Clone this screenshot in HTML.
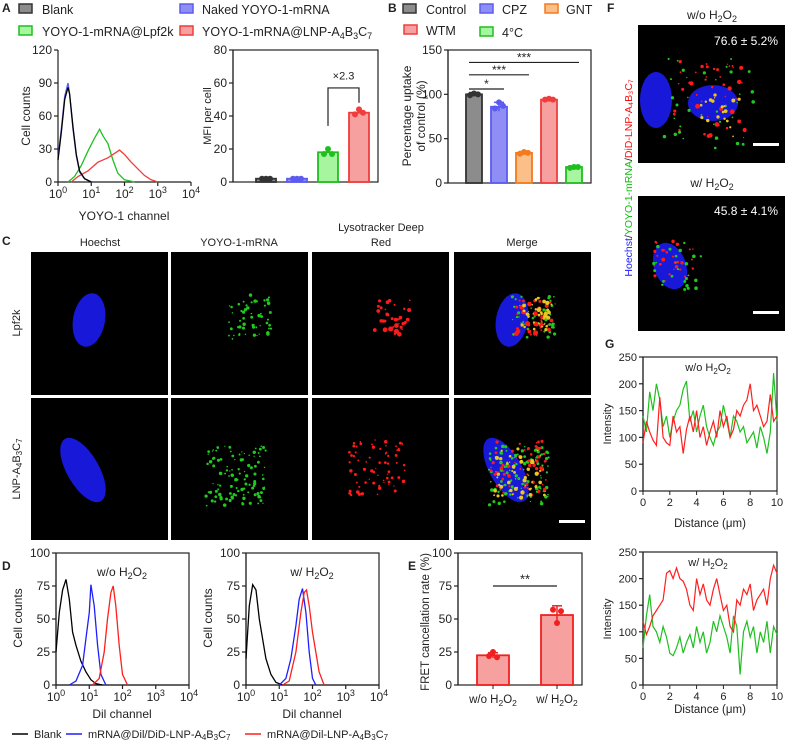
<!DOCTYPE html>
<html><head><meta charset="utf-8"><style>
body{margin:0;background:#fff;}
svg{display:block;font-family:"Liberation Sans",Arial,sans-serif;}
text{fill:#222;}
</style></head><body>
<svg id="fig" width="785" height="742" viewBox="0 0 785 742">
<g font-weight="bold" font-size="12">
<text x="2" y="12">A</text><text x="388" y="12">B</text><text x="607" y="12">F</text>
<text x="2" y="245">C</text><text x="2" y="570">D</text><text x="408" y="570">E</text><text x="605" y="348">G</text>
</g>
<g font-size="12.5">
<rect x="19" y="4" width="13" height="9" fill="#8c8c8c" stroke="#333" stroke-width="1.5"/><text x="42" y="14">Blank</text>
<rect x="180" y="4" width="13" height="9" fill="#8e8ef5" stroke="#5b5bf0" stroke-width="1.5"/><text x="202" y="14">Naked YOYO-1-mRNA</text>
<rect x="19" y="26" width="13" height="9" fill="#a8f5a0" stroke="#1fbf1f" stroke-width="1.5"/><text x="42" y="36">YOYO-1-mRNA@Lpf2k</text>
<rect x="180" y="26" width="13" height="9" fill="#f6a0a0" stroke="#f03c3c" stroke-width="1.5"/><text x="202" y="36">YOYO-1-mRNA@LNP-A<tspan font-size="9" dy="3">4</tspan><tspan dy="-3">B</tspan><tspan font-size="9" dy="3">3</tspan><tspan dy="-3">C</tspan><tspan font-size="9" dy="3">7</tspan></text>
</g>
<g font-size="12.5">
<rect x="403" y="4" width="13" height="9" fill="#8c8c8c" stroke="#333" stroke-width="1.5"/><text x="426" y="14">Control</text>
<rect x="480" y="4" width="13" height="9" fill="#8e8ef5" stroke="#5b5bf0" stroke-width="1.5"/><text x="502" y="14">CPZ</text>
<rect x="545" y="4" width="13" height="9" fill="#fbbf8a" stroke="#f47a1e" stroke-width="1.5"/><text x="566" y="14">GNT</text>
<rect x="404" y="25" width="13" height="9" fill="#f6a0a0" stroke="#f03c3c" stroke-width="1.5"/><text x="426" y="35">WTM</text>
<rect x="480" y="27" width="13" height="9" fill="#a8f5a0" stroke="#1fbf1f" stroke-width="1.5"/><text x="502" y="37">4°C</text>
</g>
<g font-size="12">
<text transform="translate(30,116) rotate(-90)" text-anchor="middle">Cell counts</text>
<text x="124" y="220" text-anchor="middle">YOYO-1 channel</text>
<text transform="translate(211,116) rotate(-90)" text-anchor="middle" font-size="11">MFI per cell</text>
<text transform="translate(411,116) rotate(-90)" text-anchor="middle">Percentage uptake</text>
<text transform="translate(425,116) rotate(-90)" text-anchor="middle">of control (%)</text>
<text transform="translate(22,618) rotate(-90)" text-anchor="middle">Cell counts</text>
<text x="122" y="718" text-anchor="middle">Dil channel</text>
<text transform="translate(212,618) rotate(-90)" text-anchor="middle">Cell counts</text>
<text x="312" y="718" text-anchor="middle">Dil channel</text>
<text transform="translate(429,622) rotate(-90)" text-anchor="middle" font-size="11.5">FRET cancellation rate (%)</text>
<text transform="translate(611,424) rotate(-90)" text-anchor="middle" font-size="11">Intensity</text>
<text x="710" y="527" text-anchor="middle" font-size="11.5">Distance (μm)</text>
<text transform="translate(611,619) rotate(-90)" text-anchor="middle" font-size="11">Intensity</text>
<text x="710" y="713" text-anchor="middle" font-size="11.5">Distance (μm)</text>
</g>
<g font-size="12">
<text x="122" y="576" text-anchor="middle">w/o H<tspan font-size="9" dy="3">2</tspan><tspan dy="-3">O</tspan><tspan font-size="9" dy="3">2</tspan></text>
<text x="312" y="576" text-anchor="middle">w/ H<tspan font-size="9" dy="3">2</tspan><tspan dy="-3">O</tspan><tspan font-size="9" dy="3">2</tspan></text>
<text x="708" y="371" text-anchor="middle" font-size="11">w/o H<tspan font-size="8" dy="3">2</tspan><tspan dy="-3">O</tspan><tspan font-size="8" dy="3">2</tspan></text>
<text x="708" y="566" text-anchor="middle" font-size="11">w/ H<tspan font-size="8" dy="3">2</tspan><tspan dy="-3">O</tspan><tspan font-size="8" dy="3">2</tspan></text>
<text x="712" y="19" text-anchor="middle">w/o H<tspan font-size="9" dy="3">2</tspan><tspan dy="-3">O</tspan><tspan font-size="9" dy="3">2</tspan></text>
<text x="712" y="187" text-anchor="middle">w/ H<tspan font-size="9" dy="3">2</tspan><tspan dy="-3">O</tspan><tspan font-size="9" dy="3">2</tspan></text>
</g>
<g font-size="11" text-anchor="middle">
<text x="100" y="246">Hoechst</text><text x="239" y="246">YOYO-1-mRNA</text>
<text x="381" y="231">Lysotracker Deep</text><text x="381" y="246">Red</text><text x="522" y="246">Merge</text>
<text transform="translate(20,323) rotate(-90)">Lpf2k</text>
<text transform="translate(20,469) rotate(-90)">LNP-A<tspan font-size="8" dy="2">4</tspan><tspan dy="-2">B</tspan><tspan font-size="8" dy="2">3</tspan><tspan dy="-2">C</tspan><tspan font-size="8" dy="2">7</tspan></text>
</g>
<g font-size="11">
<line x1="12" y1="734" x2="28" y2="734" stroke="#000" stroke-width="1.5"/><text x="34" y="738">Blank</text>
<line x1="66" y1="734" x2="82" y2="734" stroke="#1f1fff" stroke-width="1.5"/><text x="88" y="738">mRNA@Dil/DiD-LNP-A<tspan font-size="8" dy="2">4</tspan><tspan dy="-2">B</tspan><tspan font-size="8" dy="2">3</tspan><tspan dy="-2">C</tspan><tspan font-size="8" dy="2">7</tspan></text>
<line x1="245" y1="734" x2="261" y2="734" stroke="#ff1f1f" stroke-width="1.5"/><text x="267" y="738">mRNA@Dil-LNP-A<tspan font-size="8" dy="2">4</tspan><tspan dy="-2">B</tspan><tspan font-size="8" dy="2">3</tspan><tspan dy="-2">C</tspan><tspan font-size="8" dy="2">7</tspan></text>
</g>
<g font-size="11.5" text-anchor="middle">
<text x="493" y="703">w/o H<tspan font-size="8.5" dy="3">2</tspan><tspan dy="-3">O</tspan><tspan font-size="8.5" dy="3">2</tspan></text>
<text x="557" y="703">w/ H<tspan font-size="8.5" dy="3">2</tspan><tspan dy="-3">O</tspan><tspan font-size="8.5" dy="3">2</tspan></text>
</g>
<g id="marks"></g>
<g>
<text transform="translate(632,178) rotate(-90)" text-anchor="middle" font-size="10.5"><tspan style="fill:#2020ff">Hoechst</tspan><tspan>/</tspan><tspan style="fill:#10c010">YOYO-1-mRNA</tspan><tspan>/</tspan><tspan style="fill:#ff1010">DiD-LNP-A₄B₃C₇</tspan></text>
</g>
</svg>
<script>
// ---------- data ----------
const aCats = ['Blank','Naked','Lpf2k','LNP'];
const aVals = [2, 2, 18, 42];
const aPts = [[2,2,2],[2,2,2],[17,20,17],[41,44,42]];
const bCats = ['Control','CPZ','GNT','WTM','4C'];
const bVals = [100, 86, 34, 94, 18];
const bPts = [[99,101,100],[84,91,87],[33,35,34],[94,95,94],[17,18,18]];
const bErr = [2, 5, 1.5, 1, 1];
const eCats = ['w/o H2O2','w/ H2O2'];
const eVals = [22.5, 53];
const ePts = [[22,25,21],[57,47,56]];
const eErr = [2, 7];
const aBlank = [[0,20],[0.1,45],[0.2,75],[0.3,86],[0.35,80],[0.45,50],[0.55,25],[0.65,10],[0.8,3],[1,0]];
const aNaked = [[0,22],[0.1,48],[0.2,78],[0.3,90],[0.35,80],[0.45,48],[0.55,24],[0.65,9],[0.8,3],[1,0]];
const aLpf = [[0.3,0],[0.5,5],[0.7,15],[0.9,28],[1.1,40],[1.25,48],[1.35,42],[1.5,35],[1.65,20],[1.8,8],[2,2],[2.3,0]];
const aLnp = [[0.4,0],[0.6,5],[0.9,10],[1.2,18],[1.5,22],[1.7,26],[1.85,29],[2,25],[2.2,18],[2.4,12],[2.6,6],[2.8,2],[3,0]];
const dLBlack = [[0,25],[0.1,55],[0.2,72],[0.3,80],[0.4,65],[0.5,40],[0.6,30],[0.75,18],[0.9,10],[1.05,4],[1.2,1],[1.4,0]];
const dLBlue = [[0.4,0],[0.6,3],[0.8,15],[0.9,35],[1.0,55],[1.05,76],[1.15,60],[1.25,30],[1.35,8],[1.5,0]];
const dLRed = [[1.1,0],[1.3,5],[1.45,25],[1.55,50],[1.65,70],[1.72,75],[1.8,60],[1.9,30],[2.0,8],[2.15,0]];
const dRBlack = [[0,20],[0.1,60],[0.2,76],[0.3,72],[0.4,50],[0.5,35],[0.6,20],[0.75,8],[0.9,2],[1.1,0]];
const dRBlue = [[1,0],[1.2,5],[1.35,20],[1.5,45],[1.6,65],[1.7,73],[1.8,55],[1.9,25],[2,5],[2.1,0]];
const dRRed = [[1.1,0],[1.3,3],[1.5,25],[1.65,55],[1.75,70],[1.82,72],[1.9,60],[2.0,40],[2.1,25],[2.2,10],[2.35,0]];
const gTopGreen = [140,110,185,150,200,170,120,140,100,130,150,160,190,205,130,150,110,140,160,120,100,85,110,120,160,130,100,140,130,110,120,90,100,110,80,120,100,70,110,220,130];
const gTopRed = [90,130,110,95,85,175,100,90,85,140,110,120,70,115,140,110,150,100,120,85,110,130,100,150,120,140,100,115,150,140,160,170,200,150,160,140,120,130,180,130,140];
const gBotRed = [120,95,110,130,140,150,160,210,215,200,220,200,195,180,150,140,200,170,190,160,150,180,200,170,140,150,110,100,160,150,180,170,190,140,160,170,180,150,200,225,210];
const gBotGreen = [70,130,170,110,100,80,110,90,60,55,70,90,60,80,95,70,110,80,100,60,80,120,100,130,110,90,60,130,110,20,100,120,90,110,60,100,80,120,60,110,95];
const yTicksA = [0,30,60,90,120];
const yTicksABar = [0,20,40,60,80];
const yTicksB = [0,50,100,150];
const yTicksD = [0,25,50,75,100];
const yTicksG = [0,50,100,150,200,250];
const xTicksG = [0,2,4,6,8,10];

// ---------- helpers ----------
const NS='http://www.w3.org/2000/svg';
const root=document.getElementById('marks');
function el(tag, attrs, name){
  const e=document.createElementNS(NS,tag);
  for(const k in attrs) e.setAttribute(k,attrs[k]);
  
  
  root.appendChild(e); return e;
}
function txt(x,y,s,anchor,size,name){const t=el('text',{x:x,y:y,'text-anchor':anchor||'middle','font-size':size||11},name);t.textContent=s;return t;}
function scale(d0,d1,r0,r1){return v=>r0+(v-d0)/(d1-d0)*(r1-r0);}
function yAxis(x,sy,ticks,name,size){
  el('line',{x1:x,x2:x,y1:sy(ticks[0]),y2:sy(ticks[ticks.length-1]),stroke:'#222','stroke-width':1.2},name+'-line');
  ticks.forEach(t=>{el('line',{x1:x-4,x2:x,y1:sy(t),y2:sy(t),stroke:'#222','stroke-width':1.2},name+'-tick');
    txt(x-6,sy(t)+4,String(t),'end',size||12,name+'-label');});
}
function logXAxis(y,sx,name){
  el('line',{x1:sx(0),x2:sx(4),y1:y,y2:y,stroke:'#222','stroke-width':1.2},name+'-line');
  for(let i=0;i<=4;i++){el('line',{x1:sx(i),x2:sx(i),y1:y,y2:y+4,stroke:'#222','stroke-width':1.2},name+'-tick');
    const t=txt(sx(i),y+16,'10','middle',12,name+'-label');
    const s=document.createElementNS(NS,'tspan');s.setAttribute('dy','-5');s.setAttribute('font-size','9');s.textContent=String(i);t.appendChild(s);}
}
function box(x0,y0,x1,y1,name){el('rect',{x:x0,y:y0,width:x1-x0,height:y1-y0,fill:'none',stroke:'#222','stroke-width':1.2},name);}
function hist(data,sx,sy,color,name){
  el('path',{d:data.map((p,i)=>(i?'L':'M')+sx(p[0]).toFixed(1)+','+sy(p[1]).toFixed(1)).join(''),fill:'none',stroke:color,'stroke-width':1.3},name);
}
function bars(cats,vals,pts,err,sx,bw,sy,fills,strokes,name){
  cats.forEach((c,i)=>{
    const cx=sx(i);
    el('rect',{x:cx-bw/2,y:sy(vals[i]),width:bw,height:sy(0)-sy(vals[i]),fill:fills[i],stroke:strokes[i],'stroke-width':1.8},name+'-'+i);
    if(err){el('line',{x1:cx,x2:cx,y1:sy(vals[i]+err[i]),y2:sy(vals[i]-err[i]),stroke:strokes[i],'stroke-width':1.5},name+'-error');
      el('line',{x1:cx-5,x2:cx+5,y1:sy(vals[i]+err[i]),y2:sy(vals[i]+err[i]),stroke:strokes[i],'stroke-width':1.5},name+'-error-cap');}
    pts[i].forEach((v,j)=>el('circle',{cx:cx+(j-1)*4,cy:sy(v),r:3,fill:strokes[i]},name+'-point'));
  });
}

// ---------- Panel A histogram ----------
{const sx=scale(0,4,58,191), sy=scale(0,120,182,50);
 yAxis(58,sy,yTicksA,'a-hist-y'); logXAxis(182,sx,'a-hist-x');
 hist(aLnp,sx,sy,'#f03c3c','a-lnp-curve'); hist(aLpf,sx,sy,'#1fbf1f','a-lpf2k-curve');
 hist(aNaked,sx,sy,'#5b5bf0','a-naked-curve'); hist(aBlank,sx,sy,'#000','a-blank-curve');}
// ---------- Panel A bars ----------
{const sy=scale(0,80,182,50), sx=i=>266+i*31;
 box(233,50,378,182,'a-bar-frame'); yAxis(233,sy,yTicksABar,'a-bar-y',12);
 bars(aCats,aVals,aPts,null,sx,20,sy,['#8c8c8c','#8e8ef5','#a8f5a0','#f6a0a0'],['#333','#5b5bf0','#1fbf1f','#f03c3c'],'a-bar');
 el('path',{d:`M${sx(2)},${sy(34)}V${sy(57)}H${sx(3)}V${sy(48)}`,fill:'none',stroke:'#222','stroke-width':1.2},'a-bracket');
 txt((sx(2)+sx(3))/2,sy(62),'×2.3','middle',11,'a-fold-label');}
// ---------- Panel B ----------
{const sy=scale(0,150,183,50), sx=i=>474+i*25;
 box(448,50,591,183,'b-frame'); yAxis(448,sy,yTicksB,'b-y',12);
 bars(bCats,bVals,bPts,bErr,sx,16,sy,['#8c8c8c','#8e8ef5','#fbbf8a','#f6a0a0','#a8f5a0'],['#333','#5b5bf0','#f47a1e','#f03c3c','#1fbf1f'],'b-bar');
 [[1,106,'*'],[2,122,'***'],[4,136,'***']].forEach(([j,v,s])=>{
   el('line',{x1:sx(0)-5,x2:sx(j)+5,y1:sy(v),y2:sy(v),stroke:'#222','stroke-width':1.2},'b-sig-line');
   txt((sx(0)+sx(j))/2,sy(v)-1,s,'middle',12,'b-sig-star');});}
// ---------- Panel D ----------
[[56,189,dLBlack,dLBlue,dLRed,'d-left'],[246,379,dRBlack,dRBlue,dRRed,'d-right']].forEach(([x0,x1,k,b,r,n])=>{
  const sx=scale(0,4,x0,x1), sy=scale(0,100,685,553);
  box(x0,553,x1,685,n+'-frame'); yAxis(x0,sy,yTicksD,n+'-y'); logXAxis(685,sx,n+'-x');
  hist(k,sx,sy,'#000',n+'-blank-curve'); hist(b,sx,sy,'#1f1fff',n+'-blue-curve'); hist(r,sx,sy,'#ff1f1f',n+'-red-curve');});
// ---------- Panel E ----------
{const sy=scale(0,100,685,553), sx=i=>493+i*64;
 box(458,553,582,685,'e-frame'); yAxis(458,sy,yTicksD,'e-y');
 bars(eCats,eVals,ePts,eErr,sx,32,sy,['#f6a0a0','#f6a0a0'],['#f02020','#f02020'],'e-bar');
 eCats.forEach((c,i)=>{el('line',{x1:sx(i),x2:sx(i),y1:685,y2:689,stroke:'#222'},'e-x-tick');});
 el('line',{x1:sx(0),x2:sx(1),y1:sy(75),y2:sy(75),stroke:'#222','stroke-width':1.2},'e-sig-line');
 txt((sx(0)+sx(1))/2,sy(77),'**','middle',13,'e-sig-star');}
// ---------- Panel G ----------
[[357,491,gTopGreen,gTopRed,'g-top'],[552,685,gBotGreen,gBotRed,'g-bottom']].forEach(([y0,y1,gr,rd,n])=>{
  const sx=scale(0,10,643,777), sy=scale(0,250,y1,y0);
  box(643,y0,777,y1,n+'-frame'); yAxis(643,sy,yTicksG,n+'-y',11);
  xTicksG.forEach(t=>{el('line',{x1:sx(t),x2:sx(t),y1:y1,y2:y1+4,stroke:'#222'},n+'-x-tick');txt(sx(t),y1+15,String(t),'middle',11,n+'-x-label');});
  const line=(arr,c,nm)=>el('path',{d:arr.map((v,i)=>(i?'L':'M')+sx(i*10/(arr.length-1)).toFixed(1)+','+sy(v).toFixed(1)).join(''),fill:'none',stroke:c,'stroke-width':1.2},nm);
  line(gr,'#1fbf1f',n+'-green-line'); line(rd,'#ff1f1f',n+'-red-line');});

// ---------- Microscopy images ----------
let seed=7; function rnd(){seed=(seed*16807)%2147483647;return seed/2147483647;}
function cell(x,y,w,h,opts,name){
  el('rect',{x:x,y:y,width:w,height:h,fill:'#000'},name);
  (opts.nucs||[]).forEach(nu=>el('ellipse',{cx:x+nu[0],cy:y+nu[1],rx:nu[2],ry:nu[3],fill:'#1818d8',transform:`rotate(${nu[4]||0} ${x+nu[0]} ${y+nu[1]})`},name+'-nucleus'));
  (opts.dots||[]).forEach(([col,n,cx,cy,sp,rmax])=>{for(let i=0;i<n;i++){
    el('circle',{cx:x+cx+(rnd()-0.5)*sp*2,cy:y+cy+(rnd()-0.5)*sp*2,r:0.6+rnd()*(rmax||1.4),fill:col},name+'-dot');}});
  if(opts.bar) el('rect',{x:x+w-32,y:y+h-20,width:26,height:3,fill:'#fff'},name+'-scale-bar');
}
const cols=[31,171,312,454], cw=137;
const rows=[[252,143],[398,142]];
const nucR=[[[58,68,16,27,10]],[[52,72,16,36,-30]]];
cols.forEach((cx,ci)=>{
  rows.forEach(([ry,rh],ri)=>{
    const o={};
    if(ci===0||ci===3) o.nucs=nucR[ri];
    const g=['#20c820',ri?110:55,ri?65:80,ri?78:65,ri?30:22,1.2], r=['#ff1a1a',ri?70:40,ri?65:80,ri?70:65,ri?28:18,ri?1.2:2];
    if(ci===1) o.dots=[g]; if(ci===2) o.dots=[r];
    if(ci===3){o.dots=[g,r,['#e8c820',ri?50:35,ri?65:82,ri?75:62,ri?26:16,1.6]];o.bar=ri===1;}
    cell(cx,ry,cw,rh,o,'c-image-r'+ri+'-c'+ci);
  });
});
cell(638,25,147,138,{nucs:[[18,75,16,28,0],[75,78,25,18,0]],dots:[['#ff1a1a',45,70,75,40,1.8],['#20c820',35,70,80,48,1.2],['#e8c820',20,85,90,22,1.4]],bar:true},'f-image-without');
cell(638,196,147,135,{nucs:[[32,70,16,24,-20]],dots:[['#ff1a1a',30,35,65,20,1.4],['#20c820',25,40,70,26,1.2]],bar:true},'f-image-with');
txt(778,45,'76.6 ± 5.2%','end',12,'f-value-without').setAttribute('style','fill:#fff');
txt(778,215,'45.8 ± 4.1%','end',12,'f-value-with').setAttribute('style','fill:#fff');
</script>
</body></html>
